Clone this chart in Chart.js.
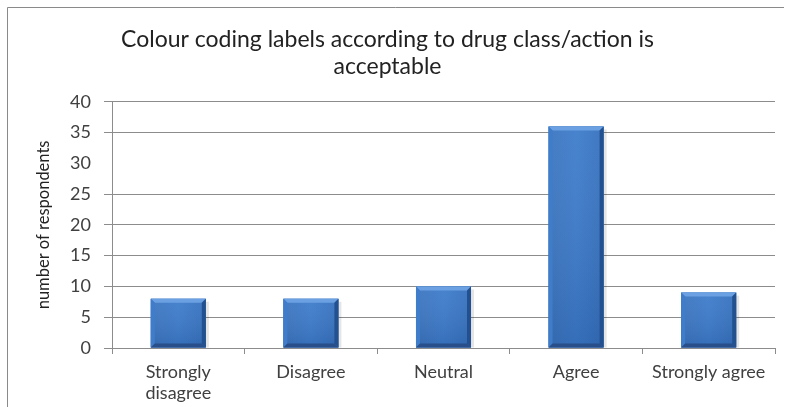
<!DOCTYPE html>
<html><head><meta charset="utf-8">
<script src="https://cdn.jsdelivr.net/npm/chart.js@4/dist/chart.umd.min.js"></script>
<style>html,body{margin:0;padding:0;background:#fff}#wrap{width:787px;height:407px;position:relative}</style>
</head><body><div id="wrap"><canvas id="c" width="787" height="407"></canvas></div>
<script>
const categories = [["Strongly", "disagree"], "Disagree", "Neutral", "Agree", "Strongly agree"];
const respondents = [8, 8, 10, 36, 9];
const yMin = 0, yMax = 40, yStep = 5;
const titleLines = ["Colour coding labels according to drug class/action is", "acceptable"];
const yAxisTitle = "number of respondents";

const FONT = "Lato, 'Open Sans', sans-serif";
const GRID = "#8c8c8c";

const framePlugin = {
  id: 'frame',
  beforeDraw(chart) {
    const c = chart.ctx;
    c.save();
    c.strokeStyle = "#8a8a8a";
    c.lineWidth = 1;
    c.beginPath();
    c.moveTo(7.5, 410);
    c.lineTo(7.5, 7.5);
    c.lineTo(784, 7.5);
    c.stroke();
    c.restore();
  }
};

const bevelPlugin = {
  id: 'bevel',
  afterDatasetsDraw(chart) {
    const c = chart.ctx;
    const meta = chart.getDatasetMeta(0);
    meta.data.forEach(bar => {
      const p = bar.getProps(['x', 'y', 'base', 'width']);
      const l = p.x - p.width / 2, r = p.x + p.width / 2, t = p.y, b = p.base;
      c.save();
      // soft shadow on the right
      c.fillStyle = "rgba(0,0,0,0.10)";
      c.fillRect(r, t + 3, 3, b - t - 3);
      // body: horizontal gradient
      const g = c.createLinearGradient(l, 0, r, 0);
      g.addColorStop(0, "#3a74be");
      g.addColorStop(0.5, "#3c7bcb");
      g.addColorStop(1, "#3470bd");
      c.fillStyle = g;
      c.fillRect(l, t, r - l, b - t);
      // vertical darkening toward the base
      const gv = c.createLinearGradient(0, t, 0, b);
      gv.addColorStop(0, "rgba(255,255,255,0.06)");
      gv.addColorStop(1, "rgba(10,30,70,0.14)");
      c.fillStyle = gv;
      c.fillRect(l, t, r - l, b - t);
      const bv = 4;
      // top bevel
      c.beginPath();
      c.moveTo(l, t); c.lineTo(r, t); c.lineTo(r - bv, t + bv); c.lineTo(l + bv, t + bv); c.closePath();
      c.fillStyle = "#6ba0e2";
      c.fill();
      // left bevel
      c.beginPath();
      c.moveTo(l, t); c.lineTo(l + bv, t + bv); c.lineTo(l + bv, b - bv); c.lineTo(l, b); c.closePath();
      c.fillStyle = "#3f7dcb";
      c.fill();
      // right bevel
      c.beginPath();
      c.moveTo(r, t); c.lineTo(r - bv, t + bv); c.lineTo(r - bv, b - bv); c.lineTo(r, b); c.closePath();
      c.fillStyle = "#23508f";
      c.fill();
      // bottom bevel
      c.beginPath();
      c.moveTo(l, b); c.lineTo(l + bv, b - bv); c.lineTo(r - bv, b - bv); c.lineTo(r, b); c.closePath();
      c.fillStyle = "#284f8a";
      c.fill();
      c.restore();
    });
  }
};

new Chart(document.getElementById('c'), {
  type: 'bar',
  data: {
    labels: categories,
    datasets: [{
      data: respondents,
      backgroundColor: "#3b78c4",
      borderWidth: 0,
      barPercentage: 0.415,
      categoryPercentage: 1
    }]
  },
  options: {
    responsive: false,
    animation: false,
    layout: { padding: { left: 0, right: 12, top: 0, bottom: 0 } },
    plugins: {
      legend: { display: false },
      tooltip: { enabled: false },
      title: {
        display: true,
        text: titleLines,
        color: "#222",
        font: { family: FONT, size: 23, weight: 'normal', lineHeight: 1.17 },
        padding: { top: 26, bottom: 22 }
      }
    },
    scales: {
      x: {
        grid: { display: true, drawOnChartArea: false, drawTicks: true, tickLength: 6, color: GRID, offset: true },
        border: { display: true, color: GRID },
        ticks: {
          color: "#404040", padding: 7, maxRotation: 0, autoSkip: false,
          font: { family: FONT, size: 18, lineHeight: 1.2 }
        },
        afterFit(s) { s.height = 59; }
      },
      y: {
        min: yMin, max: yMax,
        grid: {
          color: ctx => (ctx.tick && ctx.tick.value === 30) ? 'rgba(0,0,0,0)' : GRID,
          tickLength: 8
        },
        border: { display: true, color: GRID },
        ticks: {
          stepSize: yStep, color: "#404040", padding: 13,
          font: { family: FONT, size: 18 }
        },
        title: {
          display: true, text: yAxisTitle, color: "#222",
          font: { family: FONT, size: 16.5 },
          padding: { top: 34, bottom: 0 }
        },
        afterFit(s) { s.width = 112; }
      }
    }
  },
  plugins: [framePlugin, bevelPlugin]
});
</script></body></html>
